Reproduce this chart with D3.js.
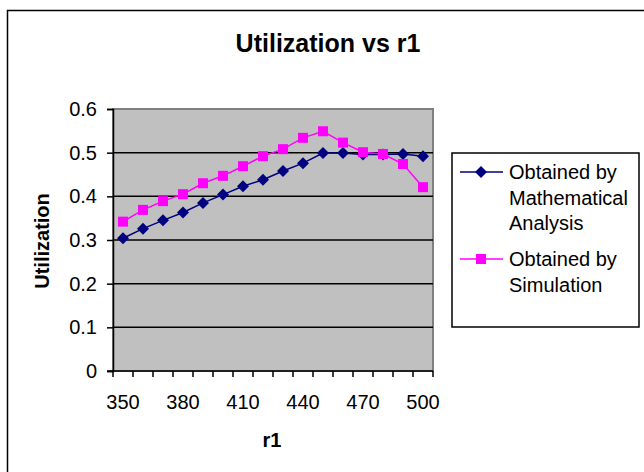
<!DOCTYPE html>
<html>
<head>
<meta charset="utf-8">
<script src="https://cdn.jsdelivr.net/npm/d3@7"></script>
<style>
  body { margin: 0; background: #fff; }
  text { font-family: Arial, "Liberation Sans", sans-serif; }
</style>
</head>
<body>
<div id="chart"></div>
<script>
const r1Values = [350, 360, 370, 380, 390, 400, 410, 420, 430, 440, 450, 460, 470, 480, 490, 500];
const mathValues = [0.304, 0.326, 0.345, 0.363, 0.385, 0.404, 0.423, 0.438, 0.458, 0.476, 0.499, 0.499, 0.496, 0.496, 0.497, 0.492];
const simValues = [0.342, 0.369, 0.389, 0.405, 0.430, 0.447, 0.469, 0.492, 0.508, 0.534, 0.549, 0.523, 0.501, 0.497, 0.474, 0.421];
const xTickLabels = [350, 380, 410, 440, 470, 500];
const yTicks = [0, 0.1, 0.2, 0.3, 0.4, 0.5, 0.6];

const W = 644, H = 472;
const plot = {left: 113, top: 109, right: 433, bottom: 371};
const fs = "20px";

const svg = d3.select("#chart").append("svg")
    .attr("width", W)
    .attr("height", H);

// outer chart frame
svg.append("rect")
    .attr("x", 7.5).attr("y", 10.5)
    .attr("width", W + 10).attr("height", H + 10)
    .attr("fill", "#fff")
    .attr("stroke", "#000")
    .attr("stroke-width", 1.5);

svg.append("text")
    .attr("x", 328)
    .attr("y", 52)
    .attr("text-anchor", "middle")
    .style("font-size", "25px")
    .style("font-weight", "bold")
    .text("Utilization vs r1");

const x = d3.scaleBand()
    .domain(r1Values)
    .range([plot.left, plot.right]);

const y = d3.scaleLinear()
    .domain([0, 0.6])
    .range([plot.bottom, plot.top]);

// plot background
svg.append("rect")
    .attr("x", plot.left).attr("y", plot.top)
    .attr("width", plot.right - plot.left)
    .attr("height", plot.bottom - plot.top)
    .attr("fill", "#c0c0c0")
    .attr("stroke", "#808080")
    .attr("stroke-width", 2);

// gridlines
svg.append("g")
    .selectAll("line")
    .data(yTicks.filter(d => d > 0 && d < 0.6))
    .join("line")
    .attr("x1", plot.left).attr("x2", plot.right)
    .attr("y1", d => y(d)).attr("y2", d => y(d))
    .attr("stroke", "#000")
    .attr("stroke-width", 1.5);

// y axis
const yAxis = svg.append("g")
    .attr("transform", `translate(${plot.left},0)`)
    .call(d3.axisLeft(y).tickValues(yTicks).tickSize(6).tickPadding(10).tickFormat(d => d === 0 ? "0" : d3.format(".1f")(d)));
yAxis.select(".domain").attr("stroke", "#000").attr("stroke-width", 1.5);
yAxis.selectAll(".tick line").attr("stroke", "#000").attr("stroke-width", 1.5);
yAxis.selectAll(".tick text")
    .style("font-size", fs)
    .style("font-family", "Arial, 'Liberation Sans', sans-serif")
    .attr("fill", "#000");

// x axis: ticks at category boundaries
const xAxisG = svg.append("g")
    .attr("transform", `translate(0,${plot.bottom})`);
xAxisG.append("line")
    .attr("x1", plot.left - 6).attr("x2", plot.right)
    .attr("stroke", "#000").attr("stroke-width", 1.5);
const bounds = r1Values.map(d => x(d)).concat([plot.right]);
xAxisG.selectAll("line.tk")
    .data(bounds)
    .join("line")
    .attr("class", "tk")
    .attr("x1", d => d).attr("x2", d => d)
    .attr("y1", 0).attr("y2", 6)
    .attr("stroke", "#000").attr("stroke-width", 1.5);
xAxisG.selectAll("text")
    .data(xTickLabels)
    .join("text")
    .attr("x", d => x(d) + x.bandwidth() / 2)
    .attr("y", 38)
    .attr("text-anchor", "middle")
    .style("font-size", fs)
    .text(d => d);

svg.append("text")
    .attr("x", 272)
    .attr("y", 447)
    .attr("text-anchor", "middle")
    .style("font-size", fs)
    .style("font-weight", "bold")
    .text("r1");

svg.append("text")
    .attr("transform", "translate(42,241) rotate(-90)")
    .attr("text-anchor", "middle")
    .attr("dy", "0.35em")
    .style("font-size", fs)
    .style("font-weight", "bold")
    .text("Utilization");

const cx = d => x(d) + x.bandwidth() / 2;
const line = d3.line()
    .x((d, i) => cx(r1Values[i]))
    .y(d => y(d));

const series = [
    {name: ["Obtained by", "Mathematical", "Analysis"], values: mathValues, color: "#000080", marker: "diamond"},
    {name: ["Obtained by", "Simulation"], values: simValues, color: "#ff00ff", marker: "square"}
];

function drawMarker(g, type, color) {
    if (type === "diamond") {
        g.append("path")
            .attr("d", "M0,-6L6,0L0,6L-6,0Z")
            .attr("fill", color);
    } else {
        g.append("rect")
            .attr("x", -5).attr("y", -5)
            .attr("width", 10).attr("height", 10)
            .attr("fill", color);
    }
}

series.forEach(s => {
    svg.append("path")
        .datum(s.values)
        .attr("d", line)
        .attr("fill", "none")
        .attr("stroke", s.color)
        .attr("stroke-width", 1.5);
    s.values.forEach((v, i) => {
        const g = svg.append("g")
            .attr("transform", `translate(${cx(r1Values[i])},${y(v)})`);
        drawMarker(g, s.marker, s.color);
    });
});

// legend
const legend = svg.append("g");
legend.append("rect")
    .attr("x", 452).attr("y", 153)
    .attr("width", 187).attr("height", 174)
    .attr("fill", "#fff")
    .attr("stroke", "#000")
    .attr("stroke-width", 1.5);

const legendRows = [{y: 172, s: series[0]}, {y: 259, s: series[1]}];
legendRows.forEach(r => {
    legend.append("line")
        .attr("x1", 460).attr("x2", 503)
        .attr("y1", r.y).attr("y2", r.y)
        .attr("stroke", r.s.color)
        .attr("stroke-width", 1.5);
    const g = legend.append("g").attr("transform", `translate(481,${r.y})`);
    drawMarker(g, r.s.marker, r.s.color);
    r.s.name.forEach((t, i) => {
        legend.append("text")
            .attr("x", 509)
            .attr("y", r.y + i * 25.5)
            .attr("dy", "0.35em")
            .style("font-size", fs)
            .text(t);
    });
});
</script>
</body>
</html>
